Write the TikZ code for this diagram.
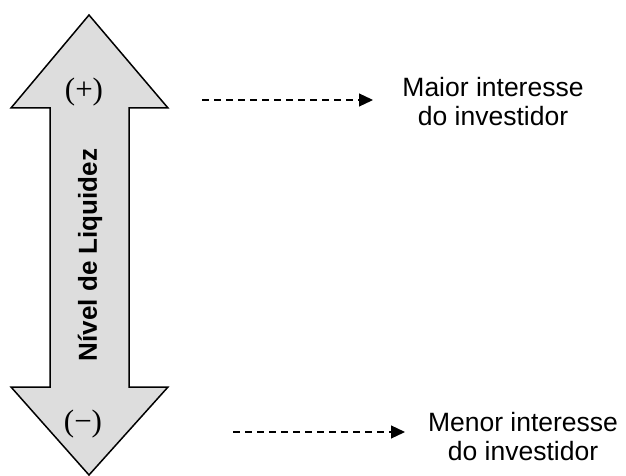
\documentclass[tikz,border=0pt]{standalone}
\usepackage{fontspec}
\setmainfont{Liberation Serif}
\setsansfont{Liberation Sans}
\usetikzlibrary{arrows.meta}
\definecolor{shaftgray}{HTML}{DDDDDD}
\begin{document}
\begin{tikzpicture}[x=1pt,y=-1pt,
  bigarrow/.style={draw=black,fill=shaftgray,line width=1.5pt,line join=miter},
  signlabel/.style={font=\fontsize{31}{34}\selectfont\rmfamily,inner sep=0pt},
  axislabel/.style={font=\fontsize{26}{30}\selectfont\sffamily\bfseries,rotate=90,inner sep=0pt},
  notelabel/.style={font=\fontsize{26.5}{29}\selectfont\sffamily,align=center,inner sep=0pt},
  hint/.style={dash pattern=on 7pt off 5pt,line width=1.2pt,-{Triangle[length=14pt,width=13pt]}}]
  \useasboundingbox (0,0) rectangle (626,476);

  % double-headed liquidity arrow
  \draw[bigarrow] (89,15) -- (168,108) -- (129,108) -- (129,387) -- (168,387)
    -- (89,475) -- (11,387) -- (50,387) -- (50,108) -- (11,108) -- cycle;

  \node[signlabel] (plus) at (84,92) {(+)};
  \node[signlabel] (minus) at (83,424) {(−)};
  \node[axislabel] (axis) at (90,255) {Nível de Liquidez};

  \node[notelabel] (maior) at (493,102) {Maior interesse\\do investidor};
  \node[notelabel] (menor) at (523,437) {Menor interesse\\do investidor};

  \coordinate (hi-start) at (202,100);
  \coordinate (hi-end) at (373,100);
  \coordinate (lo-start) at (233,432);
  \coordinate (lo-end) at (405,432);
  \draw[hint] (hi-start) -- (hi-end);
  \draw[hint] (lo-start) -- (lo-end);
\end{tikzpicture}
\end{document}
